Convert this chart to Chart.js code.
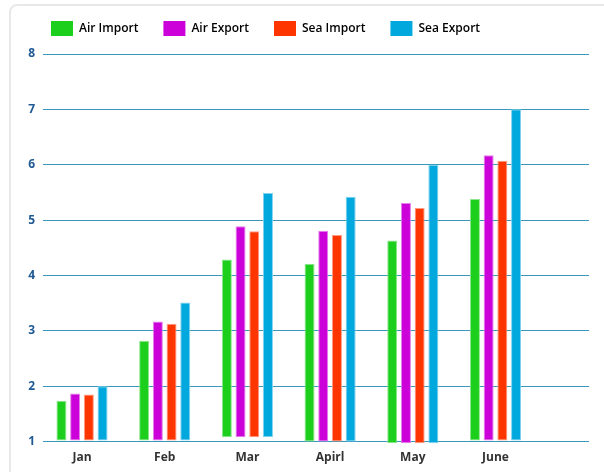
<!DOCTYPE html>
<html>
<head>
<meta charset="utf-8">
<script src="https://cdn.jsdelivr.net/npm/chart.js@4.4.1/dist/chart.umd.min.js"></script>
<style>
  html, body { margin: 0; padding: 0; background: #fff; width: 604px; height: 472px; overflow: hidden; }
  #card { position: absolute; left: 9px; top: 4px; width: 640px; height: 520px; border: 2px solid #e8e8e8; border-radius: 8px; box-sizing: border-box; }
  #wrap { position: absolute; left: 0; top: -4px; width: 604px; height: 476px; }
</style>
</head>
<body>
<div id="card"></div>
<div id="wrap"><canvas id="c" width="604" height="476"></canvas></div>
<script>
const months = ['Jan', 'Feb', 'Mar', 'Apirl', 'May', 'June'];
const seriesNames = ['Air Import', 'Air Export', 'Sea Import', 'Sea Export'];
const bases = [1.02, 1.02, 1.08, 1.0, 0.97, 1.02];
const airImport = [1.74, 2.82, 4.29, 4.21, 4.63, 5.38];
const airExport = [1.87, 3.17, 4.89, 4.81, 5.31, 6.17];
const seaImport = [1.85, 3.13, 4.80, 4.73, 5.22, 6.07];
const seaExport = [2.00, 3.51, 5.49, 5.42, 6.00, 7.00];
const yTicks = [1, 2, 3, 4, 5, 6, 7, 8];

const fills = ['#1ccf1c', '#cc00d8', '#ff3500', '#00a8dd'];
const edges = ['#8ee68e', '#e47fea', '#ff9c82', '#7fd2ee'];
const values = [airImport, airExport, seaImport, seaExport];

const datasets = seriesNames.map((name, k) => ({
  label: name,
  data: months.map((m, i) => ({ x: i, y: [bases[i], values[k][i]] })),
  backgroundColor: fills[k],
  borderColor: edges[k],
  borderWidth: 1,
  borderSkipped: false,
  clip: false,
  barPercentage: 0.73,
  categoryPercentage: 0.663
}));

const legendGap = {
  id: 'legendGap',
  beforeInit(chart) {
    const fit = chart.legend.fit;
    chart.legend.fit = function () { fit.call(this); this.height += 8; };
  }
};

new Chart(document.getElementById('c'), {
  type: 'bar',
  data: { datasets },
  plugins: [legendGap],
  options: {
    responsive: false,
    animation: false,
    layout: { padding: { left: 26, right: 15, top: 0, bottom: 6 } },
    plugins: {
      legend: {
        align: 'start',
        labels: {
          boxWidth: 22,
          boxHeight: 15,
          padding: 25,
          color: '#2e2e2e',
          font: { family: 'Open Sans', size: 12, weight: '600' },
          generateLabels(chart) {
            return chart.data.datasets.map((d, i) => ({
              text: d.label, fillStyle: fills[i], strokeStyle: fills[i], lineWidth: 0, datasetIndex: i, hidden: false
            }));
          }
        }
      },
      tooltip: { enabled: false }
    },
    scales: {
      x: {
        type: 'linear',
        offset: false,
        min: -0.4716,
        max: 6.1306,
        grid: { display: false, drawTicks: true, tickLength: 8 },
        border: { display: false },
        ticks: {
          stepSize: 1,
          includeBounds: false,
          autoSkip: false,
          maxRotation: 0,
          padding: 1,
          color: '#333333',
          font: { family: 'Open Sans', size: 12, weight: 'bold' },
          callback: (v) => (months[v] !== undefined ? months[v] : '')
        }
      },
      y: {
        min: 1,
        max: 8,
        afterFit(scale) { scale.width = 17; },
        afterBuildTicks(scale) { scale.ticks = yTicks.map(v => ({ value: v })); },
        grid: { color: '#3a97ba', lineWidth: 1, drawTicks: false },
        border: { display: false },
        ticks: {
          padding: 8,
          color: '#1f5a95',
          font: { family: 'Open Sans', size: 12, weight: 'bold' }
        }
      }
    }
  }
});
</script>
</body>
</html>
